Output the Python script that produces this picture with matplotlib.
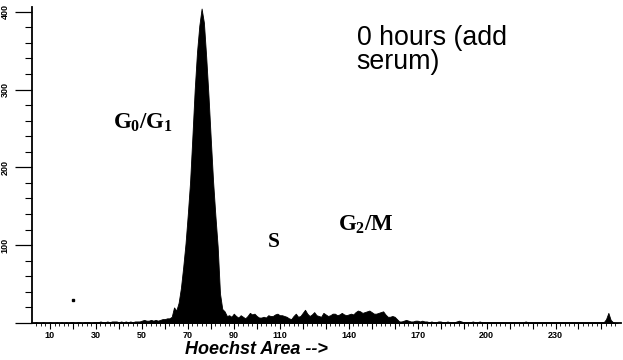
import numpy as np
import matplotlib.pyplot as plt

plt.rcParams['mathtext.fontset'] = 'custom'
plt.rcParams['mathtext.rm'] = 'Liberation Serif:bold'
plt.rcParams['mathtext.bf'] = 'Liberation Serif:bold'
plt.rcParams['mathtext.it'] = 'Liberation Serif:bold'

# DNA content histogram (Hoechst area channels 2..257), counts per channel
baseline_counts = [0, 0, 1, 0, 0, 1, 0, 0, 1, 0,
                   0, 1, 0, 1, 0, 1, 0, 1, 1, 0,
                   1, 1, 0, 1, 1, 1, 0, 1, 1, 1,
                   2, 1, 1, 2, 1, 2, 2, 2, 1, 2,
                   1, 2, 1, 2, 1, 2, 2, 2, 3, 4,
                   3, 3, 4, 3, 4, 3, 4, 5]
g1_counts = [5, 6, 6, 8, 20, 16, 26, 45, 72, 102,
             140, 182, 240, 300, 348, 382, 404, 386, 342, 292,
             236, 182, 138, 98, 38, 18, 15, 9, 10, 8]
s_g2_counts = [12, 9, 7, 10, 8, 6, 9, 13, 11, 12,
               9, 7, 7, 8, 7, 10, 9, 9, 11, 12,
               10, 10, 9, 8, 6, 5, 9, 12, 8, 9,
               13, 17, 12, 9, 11, 14, 10, 9, 8, 13,
               11, 9, 10, 12, 12, 10, 11, 13, 11, 10,
               11, 12, 11, 14, 16, 15, 13, 14, 15, 16,
               14, 12, 12, 13, 14, 15, 11, 8, 8, 9,
               8, 5, 2, 2, 3, 4, 3, 2, 2, 3]
tail_counts = [3, 2, 3, 2, 2, 1, 2, 1, 1, 2,
               2, 1, 1, 2, 1, 1, 1, 2, 3, 2,
               1, 1, 1, 1, 2, 1, 1, 2, 1, 1,
               1, 1, 1, 1, 1, 1, 1, 1, 1, 1,
               1, 1, 1, 1, 1, 1, 1, 2, 1, 1,
               1, 1, 1, 1, 1, 1, 1, 1, 1, 1,
               1, 1, 1, 1, 1, 1, 1, 1, 1, 1,
               1, 1, 1, 1, 1, 1, 1, 1, 1, 1,
               1, 1, 5, 13, 4, 1, 0, 0]
first_channel = 2
stray_event = (20, 29)

x_tick_labels = [10, 30, 50, 70, 90, 110, 140, 170, 200, 230]
y_tick_labels = [100, 200, 300, 400]

counts = np.array(baseline_counts + g1_counts + s_g2_counts + tail_counts)
channels = np.arange(first_channel, first_channel + len(counts))

fig = plt.figure(figsize=(6.23, 3.6), dpi=100)
ax = fig.add_axes([32 / 623, 37 / 360, (621 - 32) / 623, (323 - 7) / 360])

ax.fill_between(channels, counts, 0, color='black', lw=0.6, edgecolor='black')
ax.plot(*stray_event, 's', ms=1.6, color='black')

ax.set_xlim(2.2, 258.5)
ax.set_ylim(0, 406)

for side in ('top', 'right'):
    ax.spines[side].set_visible(False)
for side in ('left', 'bottom'):
    ax.spines[side].set_linewidth(1.3)

# x axis: minor ticks every 2 channels, longer ticks every 10
ax.set_xticks(np.arange(10, 258, 10))
ax.set_xticks(np.arange(4, 258, 2), minor=True)
ax.set_xticklabels([str(v) if v in x_tick_labels else '' for v in np.arange(10, 258, 10)],
                   fontsize=6.5, fontweight='bold', family='Liberation Sans')
ax.tick_params(axis='x', which='major', length=4, width=0.8, pad=2)
ax.tick_params(axis='x', which='minor', length=2.5, width=0.6)

# y axis: long outward major ticks, minor every 20
ax.set_yticks([0] + y_tick_labels)
ax.set_yticks(np.arange(20, 406, 20), minor=True)
ax.set_yticklabels([''] + [str(v) for v in y_tick_labels], rotation=90,
                   fontsize=6.5, fontweight='bold', family='Liberation Sans', va='center')
ax.tick_params(axis='y', which='major', length=12, width=0.9, pad=4)
ax.tick_params(axis='y', which='minor', length=5, width=0.8)

fig.text(256 / 623, 6 / 360, 'Hoechst Area -->', fontsize=13, fontweight='bold',
         style='italic', family='Liberation Sans', ha='center', va='baseline')

ax.text(37.5, 250, r'$\mathrm{G_0/G_1}$', fontsize=16.5, va='baseline', ha='left')
ax.text(104.5, 98, r'$\mathrm{S}$', fontsize=15.5, va='baseline', ha='left')
ax.text(135.5, 119, r'$\mathrm{G_2/M}$', fontsize=16.5, va='baseline', ha='left')

ax.text(143.5, 357, '0 hours (add', fontsize=19.3, family='Liberation Sans', va='baseline', ha='left')
ax.text(143.5, 326, 'serum)', fontsize=19.3, family='Liberation Sans', va='baseline', ha='left')

fig.savefig('out.png', dpi=100)
